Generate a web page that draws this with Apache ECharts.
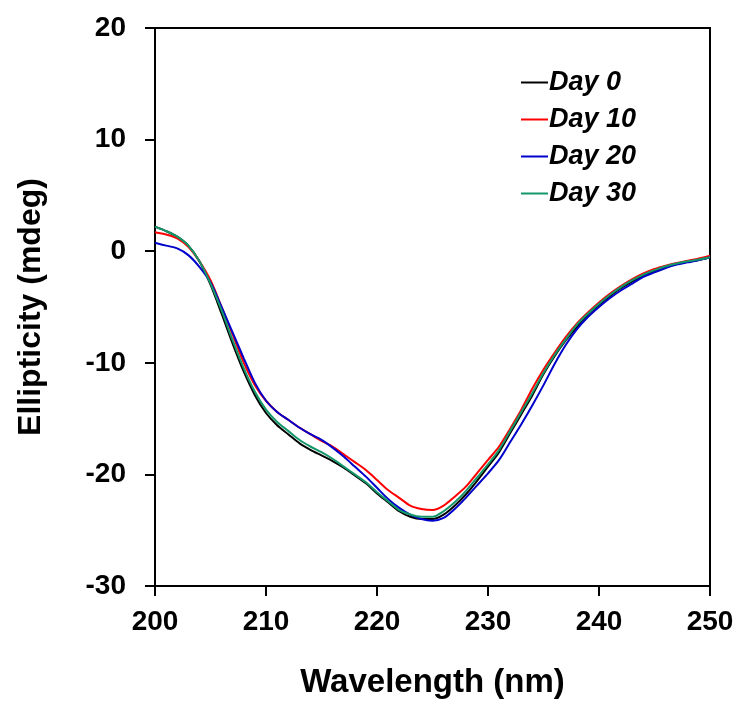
<!DOCTYPE html>
<html>
<head>
<meta charset="utf-8">
<script src="https://cdn.jsdelivr.net/npm/echarts@6/dist/echarts.min.js"></script>
<style>
html,body{margin:0;padding:0;background:#fff;}
#chart{width:743px;height:712px;}
</style>
</head>
<body>
<div id="chart"></div>
<script>
const wavelengths = [200,201,202,203,204,205,206,207,208,209,210,211,212,213,214,215,216,217,218,219,220,221,222,223,224,225,226,227,228,229,230,231,232,233,234,235,236,237,238,239,240,241,242,243,244,245,246,247,248,249,250];
const day0 = [2.2,1.8,1.3,0.5,-0.9,-3.0,-5.6,-8.3,-10.8,-12.9,-14.5,-15.6,-16.4,-17.2,-17.8,-18.3,-18.8,-19.4,-20.1,-20.8,-21.7,-22.5,-23.3,-23.8,-24.0,-24.0,-23.6,-22.8,-21.8,-20.6,-19.3,-18.0,-16.3,-14.6,-12.9,-11.0,-9.4,-8.0,-6.8,-5.7,-4.8,-4.0,-3.3,-2.7,-2.2,-1.8,-1.45,-1.15,-0.95,-0.8,-0.55];
const day10 = [1.7,1.5,1.15,0.4,-0.9,-2.6,-5.0,-7.5,-10.0,-12.0,-13.4,-14.4,-15.1,-15.8,-16.4,-17.0,-17.5,-18.2,-18.9,-19.6,-20.5,-21.4,-22.1,-22.8,-23.1,-23.2,-22.8,-22.0,-21.1,-19.9,-18.7,-17.5,-15.9,-14.2,-12.3,-10.6,-9.1,-7.7,-6.5,-5.5,-4.6,-3.8,-3.1,-2.5,-2.0,-1.6,-1.3,-1.05,-0.85,-0.65,-0.4];
const day20 = [0.75,0.5,0.25,-0.35,-1.4,-2.8,-5.0,-7.3,-9.6,-11.8,-13.4,-14.4,-15.1,-15.8,-16.4,-16.9,-17.6,-18.4,-19.3,-20.2,-21.2,-22.2,-23.0,-23.6,-24.0,-24.15,-23.9,-23.1,-22.1,-21.0,-19.9,-18.7,-17.1,-15.5,-13.8,-12.0,-10.1,-8.4,-7.0,-5.9,-5.0,-4.2,-3.5,-2.9,-2.3,-1.9,-1.5,-1.2,-1.0,-0.8,-0.55];
const day30 = [2.2,1.8,1.3,0.5,-0.9,-2.9,-5.3,-8.0,-10.5,-12.6,-14.2,-15.3,-16.1,-16.9,-17.5,-18.0,-18.6,-19.3,-20.0,-20.7,-21.6,-22.4,-23.2,-23.6,-23.8,-23.8,-23.3,-22.5,-21.5,-20.3,-19.1,-17.8,-16.1,-14.4,-12.7,-10.9,-9.3,-7.9,-6.6,-5.6,-4.7,-3.9,-3.2,-2.6,-2.1,-1.7,-1.35,-1.1,-0.9,-0.75,-0.55];
const seriesNames = ['Day 0','Day 10','Day 20','Day 30'];
const seriesColors = ['#000000','#ff0000','#0000cc','#13966a'];
const seriesValues = [day0, day10, day20, day30];
const xTicks = [200,210,220,230,240,250];
const yTicks = [-30,-20,-10,0,10,20];

const chart = echarts.init(document.getElementById('chart'), null, {renderer:'canvas'});
const font = 'Liberation Sans, Arial, sans-serif';
const option = {
  animation:false,
  backgroundColor:'#fff',
  grid:{left:155,right:33,top:28,bottom:126,show:true,borderColor:'#000',borderWidth:2,backgroundColor:'transparent'},
  legend:{
    orient:'vertical',left:516,top:64,itemWidth:27,itemHeight:14,itemGap:10,
    data:seriesNames,
    textStyle:{fontFamily:font,fontWeight:'bold',fontStyle:'italic',fontSize:27,color:'#000',lineHeight:27,padding:[0,0,0,-4]},
    icon:'path://M0,6 L27,6 L27,8 L0,8 Z'
  },
  xAxis:{
    type:'value',min:xTicks[0],max:xTicks[xTicks.length-1],interval:10,
    name:'Wavelength (nm)',nameLocation:'middle',nameGap:80,
    nameTextStyle:{fontFamily:font,fontWeight:'bold',fontSize:33,color:'#000'},
    axisLine:{onZero:false,lineStyle:{color:'#000',width:2}},
    axisTick:{show:true,inside:false,length:10,lineStyle:{color:'#000',width:2}},
    axisLabel:{fontFamily:font,fontWeight:'bold',fontSize:28,color:'#000',margin:22},
    splitLine:{show:false}
  },
  yAxis:{
    type:'value',min:yTicks[0],max:yTicks[yTicks.length-1],interval:10,
    name:'Ellipticity (mdeg)',nameLocation:'middle',nameGap:108,nameRotate:90,
    nameTextStyle:{fontFamily:font,fontWeight:'bold',fontSize:32,color:'#000'},
    axisLine:{onZero:false,lineStyle:{color:'#000',width:2}},
    axisTick:{show:true,inside:false,length:10,lineStyle:{color:'#000',width:2}},
    axisLabel:{fontFamily:font,fontWeight:'bold',fontSize:28,color:'#000',margin:29},
    splitLine:{show:false}
  },
  series: seriesNames.map((n,i)=>({
    name:n,type:'line',smooth:0.3,symbol:'none',showSymbol:false,
    color:seriesColors[i],
    lineStyle:{color:seriesColors[i],width:2},
    data:wavelengths.map((w,j)=>[w,seriesValues[i][j]])
  }))
};
chart.setOption(option);
</script>
</body>
</html>
